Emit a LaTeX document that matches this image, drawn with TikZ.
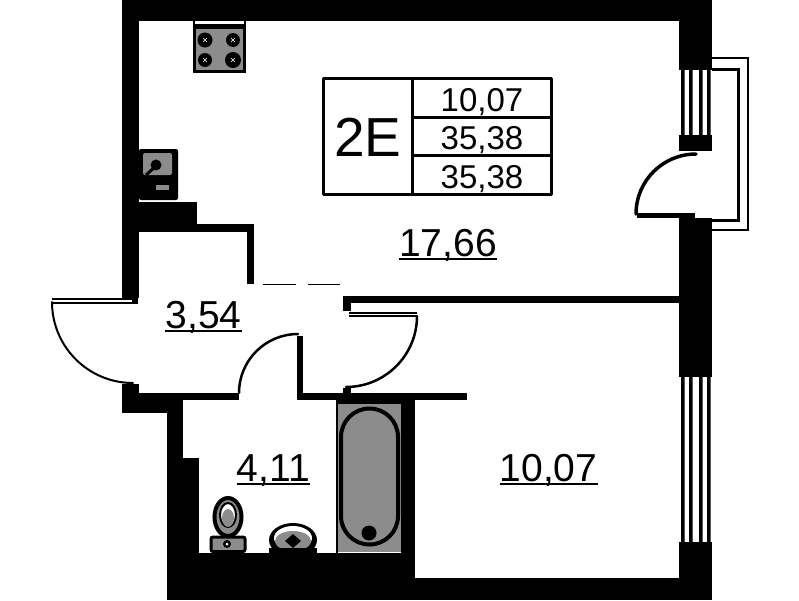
\documentclass[tikz,border=0pt]{standalone}
\usepackage{fontspec}
\setmainfont{Liberation Sans}
\definecolor{fixture}{gray}{0.55}
\tikzset{
  wall/.style={fill=black, draw=none},
  leaf/.style={line width=2.5pt, line cap=round},
  fix/.style={fill=fixture, draw=black, line width=4pt},
  area/.style={font=\fontsize{39}{39}\selectfont, anchor=base, inner sep=0pt},
  cell/.style={font=\fontsize{33}{33}\selectfont, anchor=base, inner sep=0pt},
  rule/.style={line width=2pt}
}
\begin{document}
\begin{tikzpicture}[x=1pt,y=-1pt]
\useasboundingbox (0,0) rectangle (799,600);
% the walls
\foreach \xa/\ya/\xb/\yb in {122/0/712/21, 122/0/139/298, 132/298/138/304, 122/384/139/413, 122/393/183/413,
    139/393/239/400, 167/400/183/600, 183/458/199/600, 167/553/415/600, 401/393/415/600,
    415/578/712/600, 679/0/712/70, 679/135/712/151, 679/218/712/377, 679/542/712/600,
    139/202/197/232, 197/224/254/232, 247/224/254/284, 343/296/679/303, 343/296/351/311,
    343/388/351/393, 300/393/467/400, 297/336/303/400, 336/393/415/404, 336/400/338/553}
  \fill[wall] (\xa,\ya) rectangle (\xb,\yb);
% the windows
\foreach \x in {681,689,699,707}
  \fill[wall] (\x,70) rectangle ++(3.5,65) (\x,377) rectangle ++(3.5,165);
% the balcony
\draw[line width=2.5pt] (712,58) -- (748,58) -- (748,230) -- (712,230);
\draw[line width=3pt] (712,69) -- (738,69) -- (738,220) -- (712,220);
% the balcony door
\draw[line width=5pt] (637,215.5) -- (695,215.5);
\draw[leaf, line width=3.5pt] (636,214) arc[start angle=180, end angle=270, radius=60];
% entrance door
\draw[line width=2pt] (52,299) -- (133,299) (52,303) -- (133,303);
\draw[leaf, line width=2pt] (52,302) arc[start angle=180, end angle=90, radius=81];
% bathroom door and room door
\draw[leaf] (239,393) arc[start angle=180, end angle=270, radius=59];
\draw[line width=2pt] (349,313) -- (417,313) (349,316) -- (417,316);
\draw[leaf] (417,316) arc[start angle=0, end angle=90, radius=71];
% the dashes of the wall above the passage
\draw[line width=1.5pt] (263,284.5) -- (296,284.5) (308,284.5) -- (340,284.5);
% the stove
\fill[black] (193,21) rectangle (246,73);
\fill[white] (195,21) rectangle (244,23.5);
\fill[fixture] (196,29) rectangle (243,70);
\foreach \x/\y/\r in {205/40/7.5, 233/40/7, 205/60/7, 233/60/8} {
  \fill[black] (\x,\y) circle (\r);
  \draw[white, line width=0.6pt] (\x-2,\y-2) -- (\x+2,\y+2) (\x-2,\y+2) -- (\x+2,\y-2);
}
% the sink
\fill[black, rounded corners=2pt] (139,149) rectangle (178,200);
\fill[fixture, rounded corners=2pt] (143,153) rectangle (172,175);
\fill[black] (156,165) circle (5.5);
\draw[line width=3pt] (156,166) -- (146,175);
\fill[fixture] (156,185) rectangle (169,190);
% the bath
\fill[fixture] (338,404) rectangle (401,552);
\draw[fix] (341,437) arc[start angle=180, end angle=360, radius=28.5] -- (398,516) arc[start angle=0, end angle=180, radius=28.5] -- cycle;
\fill[black] (369,533) circle (7.5);
% the toilet
\draw[fix] (228,517) ellipse (13.5 and 19);
\draw[black, line width=2pt, fill=white] (228,515) ellipse (8 and 12);
\fill[fixture] (228,518) ellipse (6 and 9);
\draw[fix, line width=3pt, rounded corners=2pt] (211,537) rectangle (245,551.5);
\fill[black] (227,544) circle (4);
\fill[white] (227,544) circle (1.5);
% the bidet
\begin{scope}
\clip (260,520) rectangle (330,553);
\fill[black] (293,540) ellipse (24 and 17);
\fill[white] (293,538) ellipse (19 and 12);
\fill[fixture] (293,541) ellipse (18 and 10);
\fill[black] (293,534) -- (301,541) -- (293,548) -- (285,541) -- cycle;
\fill[black] (269,548) rectangle (317,553);
\end{scope}
% the table
\draw[line width=3pt, line join=round] (323,78) rectangle (551,194);
\draw[line width=3pt] (412,78) -- (412,194) (412,117) -- (551,117) (412,155) -- (551,155);
\node[font=\fontsize{55}{55}\selectfont, anchor=base, inner sep=0pt] (flat) at (368,156) {2E};
\node[cell] (living) at (482,111) {10,07};
\node[cell] (total) at (482,149) {35,38};
\node[cell] (summer) at (482,188) {35,38};
% the rooms
\node[area] (kitchen) at (448,256) {17,66};
\node[area] (hall) at (203.5,328) {3,54};
\node[area] (bath) at (273.5,481) {4,11};
\node[area] (bedroom) at (548.5,481) {10,07};
\foreach \n in {kitchen,hall,bath,bedroom}
  \draw[rule] ([yshift=-2.5pt]\n.base west) -- ([yshift=-2.5pt]\n.base east);
\end{tikzpicture}
\end{document}
